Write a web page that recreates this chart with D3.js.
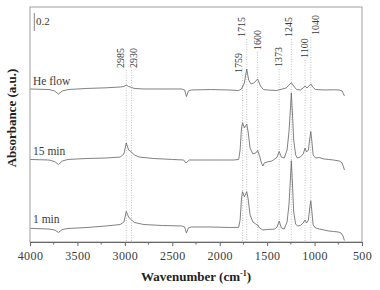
<!DOCTYPE html>
<html>
<head>
<meta charset="utf-8">
<script src="https://cdn.jsdelivr.net/npm/d3@7"></script>
<style>
html,body{margin:0;padding:0;background:#fff;}
svg{display:block;font-family:"Liberation Serif","Times New Roman",serif;}
</style>
</head>
<body>
<svg id="chart" width="380" height="290"></svg>
<script>
// ---------- data ----------
const seriesNames = ["He flow", "15 min", "1 min"];

const heWave = [4000,3800,3740,3700,3660,3600,3400,3200,3050,3010,2985,2960,2930,2900,2800,2600,2400,2370,2350,2330,2300,2100,1900,1800,1770,1740,1715,1695,1670,1640,1600,1570,1540,1500,1400,1300,1270,1245,1220,1190,1150,1120,1100,1080,1060,1040,1020,990,900,800,740,710,695,685];
const heAbs  = [1.700,1.694,1.678,1.644,1.678,1.694,1.706,1.713,1.722,1.728,1.744,1.728,1.717,1.706,1.700,1.700,1.700,1.689,1.617,1.678,1.689,1.694,1.689,1.683,1.700,1.767,1.922,1.800,1.756,1.767,1.811,1.733,1.694,1.689,1.683,1.711,1.744,1.770,1.733,1.694,1.689,1.711,1.733,1.711,1.733,1.756,1.722,1.694,1.689,1.691,1.689,1.678,1.644,1.622];

const m15Wave = [4000,3800,3740,3700,3660,3600,3400,3200,3050,3010,2985,2960,2930,2900,2850,2700,2500,2380,2355,2345,2320,2200,2000,1850,1800,1785,1770,1759,1740,1715,1700,1680,1650,1620,1600,1580,1560,1545,1530,1500,1450,1420,1395,1373,1350,1320,1290,1270,1255,1245,1235,1220,1200,1180,1150,1120,1100,1085,1065,1050,1040,1030,1015,990,950,900,850,800,740,710,695,685];
const m15Abs  = [0.917,0.911,0.894,0.861,0.900,0.917,0.928,0.933,0.944,0.978,1.100,1.022,1.000,0.967,0.944,0.928,0.917,0.911,0.878,0.889,0.911,0.911,0.911,0.911,0.917,1.022,1.267,1.326,1.267,1.311,1.222,1.044,0.978,0.989,1.017,0.956,0.878,0.844,0.878,0.889,0.900,0.922,0.944,1.006,0.944,0.933,1.022,1.222,1.467,1.656,1.467,1.133,0.967,0.933,0.944,0.978,1.044,1.000,1.022,1.156,1.228,1.133,0.967,0.933,0.939,0.922,0.917,0.911,0.900,0.878,0.833,0.800];

const m1Wave = [4000,3800,3740,3700,3660,3600,3400,3200,3050,3010,2985,2960,2930,2900,2800,2600,2400,2370,2350,2330,2300,2100,1900,1800,1785,1770,1759,1740,1715,1700,1680,1650,1620,1600,1580,1545,1500,1420,1395,1373,1350,1320,1290,1270,1255,1245,1235,1220,1200,1180,1150,1120,1100,1085,1065,1050,1040,1030,1015,990,950,900,850,800,750,720,700,685];
const m1Abs  = [0.152,0.144,0.133,0.106,0.139,0.150,0.161,0.178,0.194,0.222,0.339,0.278,0.244,0.217,0.194,0.183,0.178,0.167,0.100,0.156,0.167,0.167,0.161,0.163,0.244,0.489,0.559,0.503,0.559,0.478,0.300,0.222,0.200,0.189,0.156,0.133,0.139,0.144,0.167,0.233,0.156,0.144,0.222,0.411,0.689,0.903,0.689,0.333,0.200,0.178,0.183,0.211,0.244,0.211,0.244,0.389,0.459,0.356,0.189,0.156,0.144,0.133,0.122,0.117,0.111,0.100,0.067,0.017];

const peakLabels = [2985, 2930, 1759, 1715, 1600, 1373, 1245, 1100, 1040];
const xTickLabels = [4000, 3500, 3000, 2500, 2000, 1500, 1000, 500];
const scaleBarValue = 0.2;

// ---------- layout ----------
const svg = d3.select("#chart");
const L = 30, R = 362, T = 7, B = 242;
const x = d3.scaleLinear().domain([4000, 500]).range([L, R]);
const y = d3.scaleLinear().domain([0, 2.611]).range([B, T]);

const traceColor = "#6a6a6a";
const frameColor = "#a0a0a0";
const textColor = "#3a3a3a";

// dotted peak lines + labels (label placement: bottom y and horizontal shift of text baseline)
const labelBottom = {2985:68, 2930:68, 1759:73, 1715:37, 1600:50, 1373:67, 1245:37, 1100:58, 1040:35};
const labelShift  = {2985:-2.3, 2930:5.2, 1759:-0.6, 1715:-1.3, 1600:3.3, 1373:3.3, 1245:0.6, 1100:3.2, 1040:7.8};
const peaksG = svg.append("g");
peakLabels.forEach(p => {
  const px = x(p);
  peaksG.append("line")
    .attr("x1", px).attr("x2", px)
    .attr("y1", labelBottom[p] + 2).attr("y2", B)
    .attr("stroke", "#b4b4b4").attr("stroke-width", 0.8)
    .attr("stroke-dasharray", "1,1.5");
  peaksG.append("text")
    .attr("transform", `translate(${px + labelShift[p]},${labelBottom[p]}) rotate(-90)`)
    .attr("font-size", 10).attr("fill", textColor)
    .attr("text-anchor", "start")
    .text(p);
});

// traces
const line = d3.line().x(d => x(d[0])).y(d => y(d[1]));
const traces = [[heWave, heAbs], [m15Wave, m15Abs], [m1Wave, m1Abs]];
traces.forEach(([w, a]) => {
  svg.append("path")
    .datum(w.map((v, i) => [v, a[i]]))
    .attr("d", line)
    .attr("fill", "none")
    .attr("stroke", traceColor)
    .attr("stroke-width", 0.85)
    .attr("stroke-linejoin", "round");
});

// series labels
const labelBase = [85, 155, 223];
seriesNames.forEach((n, i) => {
  svg.append("text").attr("x", 33).attr("y", labelBase[i])
    .attr("font-size", 11.5).attr("fill", textColor).text(n);
});

// frame
svg.append("rect").attr("x", L).attr("y", T).attr("width", R - L).attr("height", B - T)
  .attr("fill", "none").attr("stroke", frameColor).attr("stroke-width", 1);

// x axis
const xAxis = d3.axisBottom(x).tickValues(xTickLabels).tickSize(4).tickFormat(d3.format("d"));
const gx = svg.append("g").attr("transform", `translate(0,${B})`).call(xAxis);
gx.select(".domain").attr("stroke", "#666");
gx.selectAll(".tick line").attr("stroke", "#666");
gx.selectAll(".tick text").attr("font-size", 12).attr("fill", textColor)
  .attr("font-family", "Liberation Serif").attr("dy", "0.95em").attr("letter-spacing", "0.4px");
const minor = d3.range(3750, 500, -500);
const gm = svg.append("g").attr("transform", `translate(0,${B})`);
gm.selectAll("line").data(minor).join("line")
  .attr("x1", d => x(d)).attr("x2", d => x(d))
  .attr("y1", 0).attr("y2", 2.5).attr("stroke", "#666");

// axis titles
const xt = svg.append("text").attr("x", (L + R) / 2).attr("y", 281)
  .attr("text-anchor", "middle").attr("font-size", 13).attr("font-weight", "bold").attr("fill", "#222");
xt.append("tspan").text("Wavenumber (cm");
xt.append("tspan").attr("font-size", 8).attr("dy", -5).text("-1");
xt.append("tspan").attr("dy", 5).text(")");

svg.append("text").attr("transform", "translate(16,118) rotate(-90)")
  .attr("text-anchor", "middle").attr("font-size", 13).attr("font-weight", "bold").attr("fill", "#222")
  .text("Absorbance (a.u.)");

// scale bar
const sb0 = 2.344;
svg.append("line").attr("x1", 34.3).attr("x2", 34.3)
  .attr("y1", y(sb0)).attr("y2", y(sb0 + scaleBarValue))
  .attr("stroke", "#777").attr("stroke-width", 0.9);
svg.append("text").attr("x", 36).attr("y", 24.5).attr("font-size", 11).attr("fill", textColor)
  .text(scaleBarValue);
</script>
</body>
</html>
